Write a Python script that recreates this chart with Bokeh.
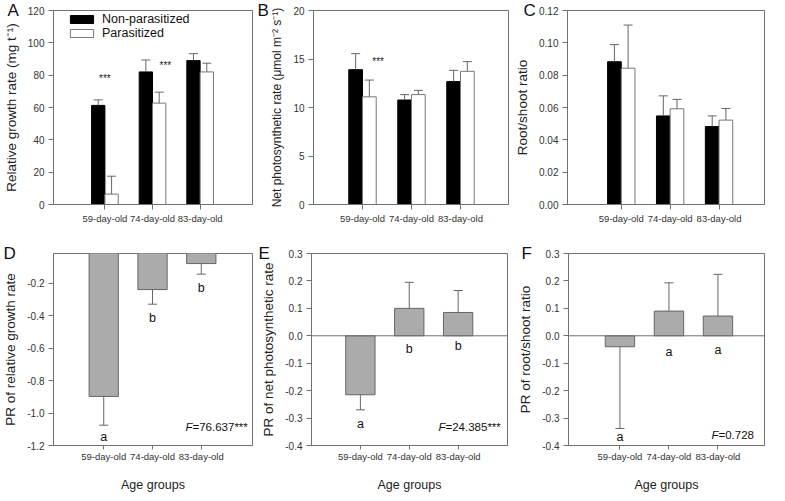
from bokeh.plotting import figure
from bokeh.layouts import row, column
from bokeh.models import (Range1d, FixedTicker, Legend, LegendItem, Label, Span,
                          NumeralTickFormatter)
from bokeh.core.properties import value
from bokeh.embed import file_html
from bokeh.resources import INLINE

FONT = "Liberation Sans"

# ---------------- data ----------------
groups = ["59-day-old", "74-day-old", "83-day-old"]
group_pos = [1, 2, 3]

# A: relative growth rate (mean, mean+SE)
rgr_np = [61.3, 82.0, 89.0]
rgr_np_hi = [64.7, 89.4, 93.3]
rgr_p = [6.4, 62.7, 82.0]
rgr_p_hi = [17.5, 69.5, 87.4]
rgr_sig_x = [1.0, 2.27]
rgr_sig_y = [77.8, 85.8]

# B: net photosynthetic rate
pn_np = [13.9, 10.77, 12.67]
pn_np_hi = [15.55, 11.33, 13.83]
pn_p = [11.1, 11.33, 13.73]
pn_p_hi = [12.83, 11.77, 14.73]
pn_sig_x = [1.32]
pn_sig_y = [14.73]

# C: root/shoot ratio
rs_np = [0.0883, 0.0548, 0.0482]
rs_np_hi = [0.0989, 0.0672, 0.0548]
rs_p = [0.0843, 0.0592, 0.0522]
rs_p_hi = [0.111, 0.065, 0.0594]

# D: PR of relative growth rate
pr_rgr = [-0.898, -0.24, -0.08]
pr_rgr_err = [-1.075, -0.33, -0.145]
pr_rgr_letters = ["a", "b", "b"]
pr_rgr_letter_y = [-1.145, -0.413, -0.232]
pr_rgr_F = "=76.637***"

# E: PR of net photosynthetic rate
pr_pn = [-0.215, 0.10, 0.085]
pr_pn_err = [-0.27, 0.195, 0.165]
pr_pn_letters = ["a", "b", "b"]
pr_pn_letter_y = [-0.32, -0.047, -0.039]
pr_pn_F = "=24.385***"

# F: PR of root/shoot ratio
pr_rs = [-0.04, 0.09, 0.072]
pr_rs_err = [-0.338, 0.193, 0.224]
pr_rs_letters = ["a", "a", "a"]
pr_rs_letter_y = [-0.368, -0.058, -0.052]
pr_rs_F = "=0.728"

# ---------------- styles ----------------
FRAME = "#707070"
TICKTXT = "#333333"
LABTXT = "#222222"
ERR = "#666666"
GRAYBAR = "#ababab"
GRAYLINE = "#666666"
BW = 0.28


def make_fig(w, h, xr, yr, yticks, yfmt, bl, br, bt, bb, bottom_row, ylabel, letter, letter_dx,
             xlab_standoff=4, ylab_size="13.5px"):
    p = figure(width=w, height=h, x_range=Range1d(*xr), y_range=Range1d(*yr),
               output_backend="svg", toolbar_location=None,
               min_border_left=bl, min_border_right=br,
               min_border_top=bt, min_border_bottom=bb)
    p.xgrid.visible = False
    p.ygrid.visible = False
    p.outline_line_color = FRAME
    p.outline_line_width = 1
    p.background_fill_color = "white"
    p.border_fill_color = "white"

    # panel letter carried by a (zero-height) title
    p.title.text = letter
    p.title.align = "left"
    p.title.vertical_align = "middle"
    p.title.offset = letter_dx
    p.title.standoff = -28
    p.title.text_font = FONT
    p.title.text_font_size = "17px"
    p.title.text_font_style = "normal"
    p.title.text_color = "#111111"

    p.xaxis.ticker = FixedTicker(ticks=group_pos)
    p.xaxis.major_label_overrides = {pos: g for pos, g in zip(group_pos, groups)}
    p.yaxis.ticker = FixedTicker(ticks=yticks)
    p.yaxis.formatter = NumeralTickFormatter(format=yfmt)
    for ax in (p.xaxis, p.yaxis):
        ax.axis_line_color = FRAME
        ax.major_tick_line_color = FRAME
        ax.minor_tick_line_color = None
        ax.major_tick_out = 5
        ax.major_tick_in = 0
        ax.major_label_text_font = FONT
        ax.major_label_text_color = TICKTXT
        ax.axis_label_text_font = FONT
        ax.axis_label_text_font_style = "normal"
        ax.axis_label_text_color = LABTXT
    p.xaxis.major_label_text_font_size = "9.5px"
    p.yaxis.major_label_text_font_size = "10px"
    p.yaxis.major_label_standoff = 4
    p.yaxis.axis_label = ylabel
    p.yaxis.axis_label_text_font_size = ylab_size
    p.yaxis.axis_label_standoff = 6
    p.xaxis.major_label_standoff = xlab_standoff
    if bottom_row:
        p.xaxis.major_tick_out = 4
        p.xaxis.axis_label = "Age groups"
        p.xaxis.axis_label_text_font_size = "12.5px"
        p.xaxis.axis_label_standoff = 13
    else:
        p.xaxis.axis_label = None
        p.xaxis.axis_label_standoff = 0
    return p


def err_bars(p, pos, lo, hi):
    p.segment(x0=pos, y0=lo, x1=pos, y1=hi, line_color=ERR, line_width=1)
    p.scatter(x=pos, y=hi, marker="dash", size=9, line_color=ERR, line_width=1)


def paired(p, np_vals, np_hi, p_vals, p_hi):
    x_np = [g - BW / 2 for g in group_pos]
    x_p = [g + BW / 2 for g in group_pos]
    r1 = p.vbar(x=x_np, top=np_vals, bottom=0, width=BW, fill_color="black", line_color="black")
    r2 = p.vbar(x=x_p, top=p_vals, bottom=0, width=BW, fill_color="white", line_color="#777777")
    err_bars(p, x_np, np_vals, np_hi)
    err_bars(p, x_p, p_vals, p_hi)
    return r1, r2


def single(p, vals, errs, letters, letter_y, ftxt, fx, fy):
    p.vbar(x=group_pos, top=vals, bottom=0, width=0.6, fill_color=GRAYBAR, line_color=GRAYLINE)
    err_bars(p, group_pos, vals, errs)
    p.text(x=group_pos, y=letter_y, text=letters, text_align="center", text_baseline="middle",
           text_font=value(FONT), text_font_size="12.5px", text_color="#111111")
    p.add_layout(Label(x=fx, y=fy, x_units="screen", y_units="screen", text="F",
                       text_font=FONT, text_font_style="italic", text_font_size="11.5px",
                       text_color="#111111", text_align="left", text_baseline="middle"))
    p.add_layout(Label(x=fx + 7, y=fy, x_units="screen", y_units="screen", text=ftxt,
                       text_font=FONT, text_font_size="11.5px",
                       text_color="#111111", text_align="left", text_baseline="middle"))


TOP_H, BOT_H = 243, 251
TOP_T, TOP_B = 10, 39
BOT_T, BOT_B = 10, 44

# ---------------- panel A ----------------
xrA, yrA = (-0.08, 4.1), (0, 120)
pA = make_fig(256, TOP_H, xrA, yrA, [0, 20, 40, 60, 80, 100, 120], "0",
              48, 4, TOP_T, TOP_B, False, "Relative growth rate (mg t\u207b\u00b9)", "A", -46,
              xlab_standoff=3)
rA1, rA2 = paired(pA, rgr_np, rgr_np_hi, rgr_p, rgr_p_hi)
pA.text(x=rgr_sig_x, y=rgr_sig_y, text=["***"] * len(rgr_sig_x), text_align="center",
        text_baseline="middle", text_font=value(FONT), text_font_size="10px", text_color="#222222")
leg = Legend(items=[LegendItem(label="Non-parasitized", renderers=[rA1]),
                    LegendItem(label="Parasitized", renderers=[rA2])],
             location=(14, 164), orientation="vertical", glyph_width=29, glyph_height=10,
             label_height=10, label_text_font=FONT, label_text_font_size="12.5px",
             label_text_color="#111111", label_standoff=6, spacing=0, padding=0, margin=0,
             border_line_color=None, background_fill_alpha=0)
pA.add_layout(leg)

# ---------------- panel B ----------------
xrB, yrB = (0, 3.98), (0, 20)
pB = make_fig(256, TOP_H, xrB, yrB, [0, 5, 10, 15, 20], "0",
              57, 4, TOP_T, TOP_B, False,
              "Net photosynthetic rate (\u03bcmol m\u207b\u00b2 s\u207b\u00b9)", "B", -56,
              xlab_standoff=3, ylab_size="12px")
paired(pB, pn_np, pn_np_hi, pn_p, pn_p_hi)
pB.text(x=pn_sig_x, y=pn_sig_y, text=["***"] * len(pn_sig_x), text_align="center",
        text_baseline="middle", text_font=value(FONT), text_font_size="10px", text_color="#222222")

# ---------------- panel C ----------------
xrC, yrC = (-0.1, 3.93), (0, 0.12)
pC = make_fig(257, TOP_H, xrC, yrC, [0, 0.02, 0.04, 0.06, 0.08, 0.10, 0.12], "0.00",
              54, 5, TOP_T, TOP_B, False, "Root/shoot ratio", "C", -44, xlab_standoff=3)
paired(pC, rs_np, rs_np_hi, rs_p, rs_p_hi)

# ---------------- panel D ----------------
xrD, yrD = (-0.03, 4.05), (-1.2, -0.018)
pD = make_fig(256, BOT_H, xrD, yrD, [-1.2, -1.0, -0.8, -0.6, -0.4, -0.2], "0.0",
              52, 4, BOT_T, BOT_B, True, "PR of relative growth rate", "D", -50, xlab_standoff=1)
single(pD, pr_rgr, pr_rgr_err, pr_rgr_letters, pr_rgr_letter_y, pr_rgr_F, 132, 19)

# ---------------- panel E ----------------
xrE, yrE = (0.0, 4.01), (-0.4, 0.3)
pE = make_fig(256, BOT_H, xrE, yrE, [-0.4, -0.3, -0.2, -0.1, 0.0, 0.1, 0.2, 0.3], "0.0",
              55, 5, BOT_T, BOT_B, True, "PR of net photosynthetic rate", "E", -53, xlab_standoff=1)
pE.add_layout(Span(location=0, dimension="width", line_color=FRAME, line_width=1))
single(pE, pr_pn, pr_pn_err, pr_pn_letters, pr_pn_letter_y, pr_pn_F, 127, 19)

# ---------------- panel F ----------------
xrF, yrF = (-0.05, 3.95), (-0.4, 0.3)
pF = make_fig(257, BOT_H, xrF, yrF, [-0.4, -0.3, -0.2, -0.1, 0.0, 0.1, 0.2, 0.3], "0.0",
              56, 5, BOT_T, BOT_B, True, "PR of root/shoot ratio", "F", -47, xlab_standoff=1)
pF.add_layout(Span(location=0, dimension="width", line_color=FRAME, line_width=1))
single(pF, pr_rs, pr_rs_err, pr_rs_letters, pr_rs_letter_y, pr_rs_F, 143, 11)

layout = column(row(pA, pB, pC), row(pD, pE, pF))
open("out.html", "w").write(file_html(layout, INLINE))
